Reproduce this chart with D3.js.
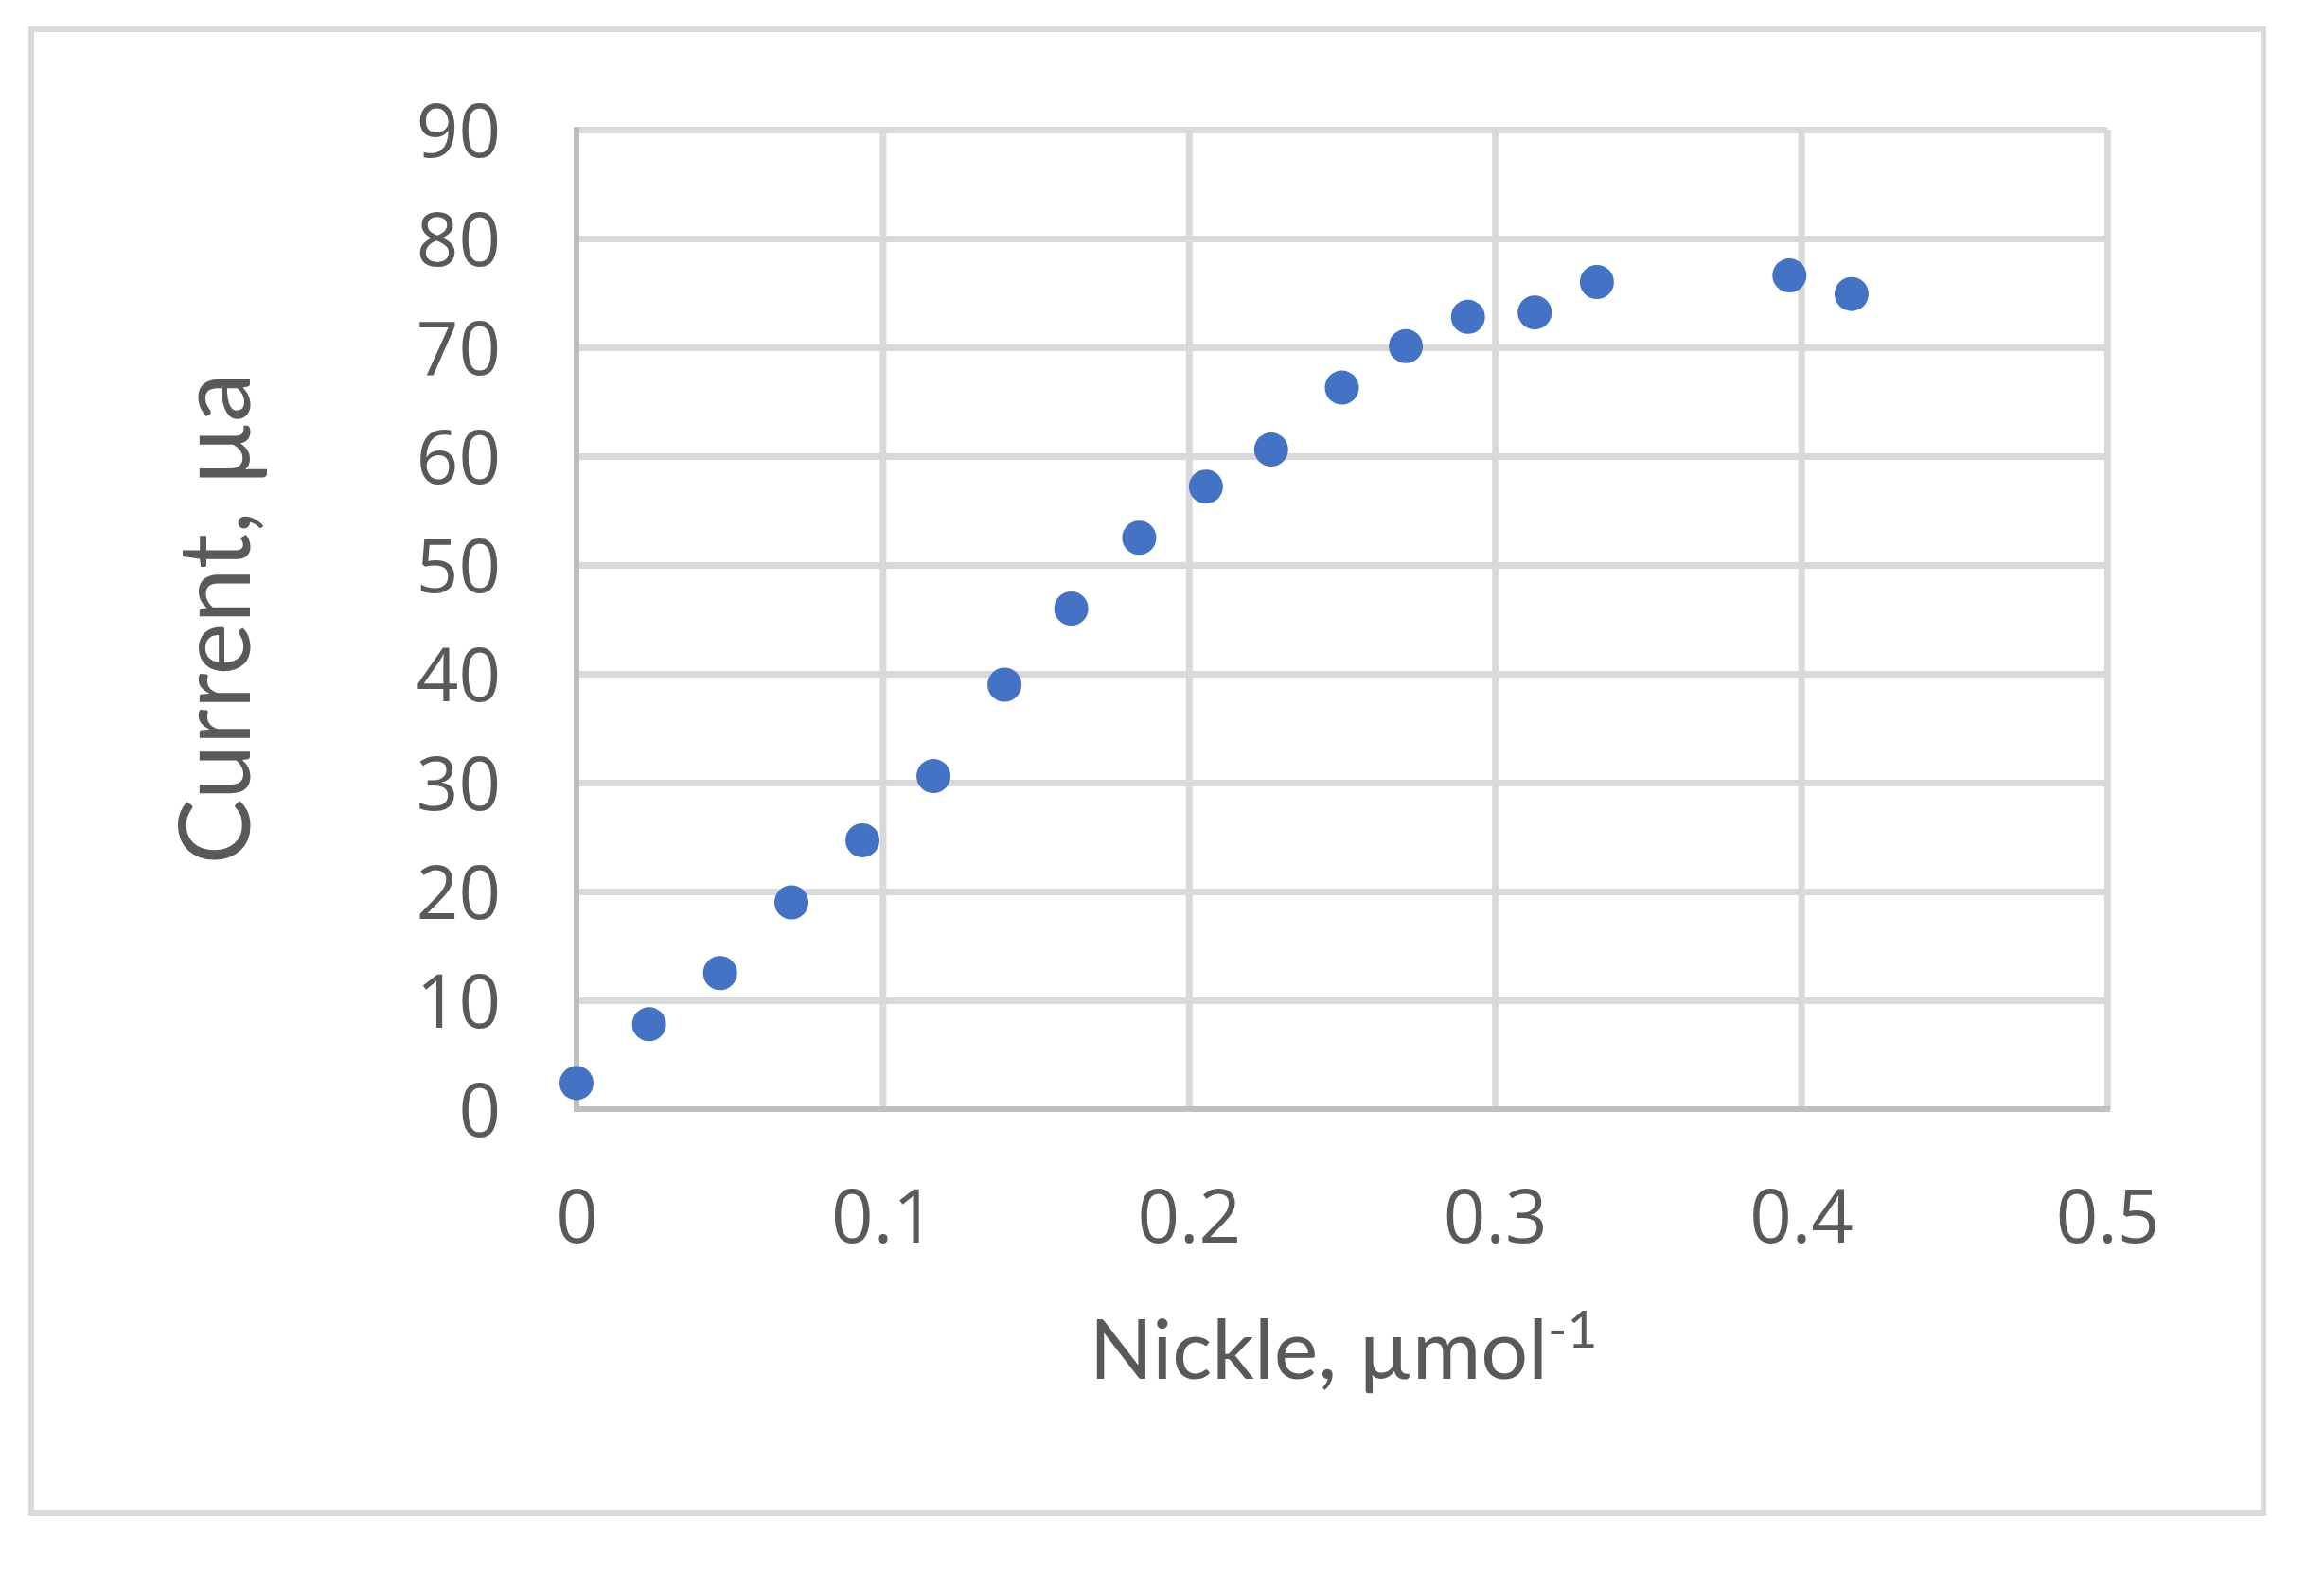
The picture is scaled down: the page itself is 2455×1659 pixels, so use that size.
<!DOCTYPE html>
<html>
<head>
<meta charset="utf-8">
<script src="https://cdn.jsdelivr.net/npm/d3@7"></script>
<style>
  html, body { margin: 0; padding: 0; background: #ffffff; }
  svg { display: block; }
</style>
</head>
<body>
<svg id="chart" width="2455" height="1659"></svg>
<script>
// Data
const nickle = [0.0, 0.0237, 0.0469, 0.0702, 0.0934, 0.1166, 0.1398, 0.1616, 0.1838, 0.2056, 0.2269, 0.2500, 0.2709, 0.2912, 0.3130, 0.3333, 0.3962, 0.4165];
const current = [2.4, 7.8, 12.5, 19.0, 24.7, 30.6, 39.0, 46.0, 52.5, 57.2, 60.6, 66.3, 70.1, 72.8, 73.2, 76.0, 76.6, 74.9];
const xTicks = [0, 0.1, 0.2, 0.3, 0.4, 0.5];
const yTicks = [0, 10, 20, 30, 40, 50, 60, 70, 80, 90];
const xTitle = "Nickle, µmol";
const xTitleSup = "-1";
const yTitle = "Current, µa";

const svg = d3.select("#chart");
const FONT = "'Open Sans', 'Noto Sans', sans-serif";
const TFONT = "Lato, 'Open Sans', sans-serif";
const TEXT = "#595959";
const GRID = "#d9d9d9";
const AXIS = "#bfbfbf";

// outer chart border
svg.append("rect")
  .attr("x", 33).attr("y", 31).attr("width", 2358).attr("height", 1568)
  .attr("fill", "#ffffff").attr("stroke", GRID).attr("stroke-width", 6);

const x = d3.scaleLinear().domain([0, 0.5]).range([609, 2226]);
const y = d3.scaleLinear().domain([0, 90]).range([1172, 137]);

// gridlines
const gx = svg.append("g")
  .attr("transform", `translate(0,${y(0)})`)
  .call(d3.axisBottom(x).tickValues(xTicks.filter(d => d > 0)).tickSize(-(y(0) - y(90))).tickFormat(""));
gx.select(".domain").remove();
gx.selectAll("line").attr("stroke", GRID).attr("stroke-width", 7);

const gy = svg.append("g")
  .attr("transform", `translate(${x(0)},0)`)
  .call(d3.axisLeft(y).tickValues(yTicks.filter(d => d > 0)).tickSize(-(x(0.5) - x(0))).tickFormat(""));
gy.select(".domain").remove();
gy.selectAll("line").attr("stroke", GRID).attr("stroke-width", 7);

// axis lines
svg.append("line").attr("x1", x(0)).attr("x2", x(0)).attr("y1", y(90) - 3).attr("y2", y(0) + 3)
  .attr("stroke", AXIS).attr("stroke-width", 6);
svg.append("line").attr("x1", x(0) - 3).attr("x2", x(0.5) + 3).attr("y1", y(0)).attr("y2", y(0))
  .attr("stroke", AXIS).attr("stroke-width", 6);

// tick labels via axes (no tick marks)
const xa = svg.append("g")
  .attr("transform", `translate(0,${y(0)})`)
  .call(d3.axisBottom(x).tickValues(xTicks).tickSize(0).tickPadding(0).tickFormat(d => d3.format("")(d)));
xa.select(".domain").remove();
xa.selectAll("text")
  .attr("dy", null).attr("y", 141)
  .attr("font-family", FONT).attr("font-size", 78).attr("fill", TEXT);

const ya = svg.append("g")
  .attr("transform", `translate(${x(0)},0)`)
  .call(d3.axisLeft(y).tickValues(yTicks).tickSize(0).tickPadding(0).tickFormat(d => d3.format("")(d)));
ya.select(".domain").remove();
ya.selectAll("text")
  .attr("x", -80).attr("dy", "0.36em")
  .attr("font-family", FONT).attr("font-size", 78).attr("fill", TEXT);

// points
svg.append("g").selectAll("circle")
  .data(nickle.map((v, i) => [v, current[i]]))
  .join("circle")
  .attr("cx", d => x(d[0]))
  .attr("cy", d => y(d[1]))
  .attr("r", 18)
  .attr("fill", "#4472c4");

// axis titles
const xt = svg.append("text")
  .attr("x", 1419).attr("y", 1457)
  .attr("text-anchor", "middle")
  .attr("font-family", TFONT).attr("font-size", 88).attr("fill", TEXT);
xt.append("tspan").text(xTitle);
xt.append("tspan").attr("dy", -33).attr("font-size", 55).text(xTitleSup);

svg.append("text")
  .attr("transform", `translate(264,654) rotate(-90)`)
  .attr("text-anchor", "middle")
  .attr("font-family", TFONT).attr("font-size", 104).attr("fill", TEXT)
  .text(yTitle);
</script>
</body>
</html>
